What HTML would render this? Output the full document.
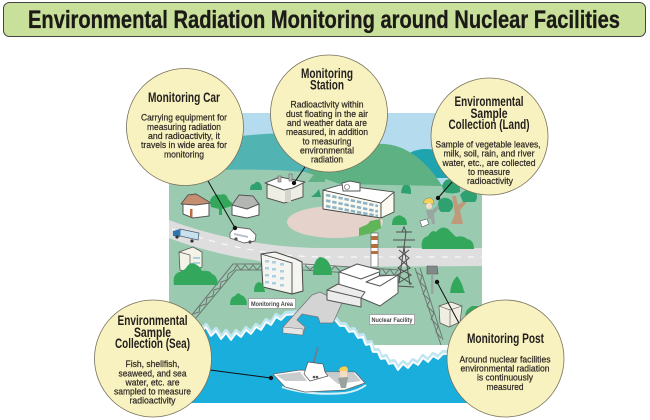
<!DOCTYPE html>
<html><head><meta charset="utf-8"><style>
html,body{margin:0;padding:0;background:#fff}
svg{display:block}
text{font-family:"Liberation Sans Narrow","Liberation Sans",sans-serif;fill:#231f1c;text-anchor:middle}
.h{font-size:13.5px;font-weight:bold}
.b{font-size:9.6px;fill:#2e2825;stroke:#2e2825;stroke-width:.22}
.l{font-size:6.2px;font-weight:bold;fill:#444}
.w{fill:#fff;stroke:#555;stroke-width:1;stroke-linejoin:round}
.g{fill:#33a85d}
.f{fill:#2fa170}
.circ{fill:#f8f2c0;stroke:#77725c;stroke-width:.8}
.con{stroke:#111;stroke-width:1;fill:none}
</style></head><body>
<svg width="650" height="420" viewBox="0 0 650 420" xmlns="http://www.w3.org/2000/svg">
<rect x="3.500" y="2.500" width="642" height="34" rx="6" fill="#c8e09a" stroke="#444" stroke-width="1"/>
<text x="324" y="28" font-size="25" font-weight="bold" textLength="592" lengthAdjust="spacingAndGlyphs" style="fill:#1c1a17;stroke:#1c1a17;stroke-width:.3">Environmental Radiation Monitoring around Nuclear Facilities</text>

<!-- scene background -->
<rect x="169" y="113" width="313" height="80" fill="#b5dcee"/>
<path d="M169 170 L169 160 C195 138 250 133 300 133 L320 175 L169 175Z" fill="#52b3b3"/>
<path d="M400 160 C412 148 428 145 450 155 L482 178 L400 178Z" fill="#1fa3ae"/>
<path d="M300 178 C330 152 362 143 385 144 C410 146 430 165 446 192 L300 192Z" fill="#5eb183"/>
<path d="M169 171 C220 170 260 168 305 172 L340 184 L440 186 L482 190 L482 345 L169 345Z" fill="#9acbb0"/>
<path d="M308 182 L316 172 L325 172 L325 182Z" fill="#5eb183"/>
<ellipse cx="335" cy="222" rx="48" ry="16" fill="#e4d2cb"/>

<!-- road -->
<path d="M169 220 C200 232 260 248 320 248 L482 248 L482 266 L330 267 C260 266 200 250 169 238Z" fill="#dedede"/>
<path d="M172 229 C205 240 260 256 320 257 L482 257" fill="none" stroke="#fff" stroke-width="1" stroke-dasharray="6 7"/>

<!-- background bushes -->
<path d="M250 190 Q250 184 254 184 Q257 180 260 183 Q262 185 262 190Z" class="f"/>
<path d="M311 197 L316 193 L319 189 L321 197Z" class="f"/>
<path d="M401 193 Q402 184 406 185 Q410 184 411 190 L411 194 L401 193Z" class="f"/>

<!-- truss fence -->
<g fill="none" stroke="#6e7772" stroke-width="1">
<path d="M191 316 L233 264 L262 264M195 319 L236 270 L262 270"/>
<path d="M193 314 L199 312 L200 306 L206 304 L207 298 L213 296 L214 290 L220 288 L221 282 L227 280 L228 274 L234 270 L237 265 L241 270 L245 265 L249 270 L253 265 L257 270 L261 265"/>
<path d="M303 264 L400 270 M303 270 L398 276"/>
<path d="M305 265 L310 270 L315 265 L320 270 L325 266 L330 271 L335 266 L340 271"/>
<path d="M382 268 L386 274 L390 269 L394 275 L398 270"/>
<path d="M415 268 L441 345 M420 268 L443 340"/>
<path d="M416 272 L422 276 L420 282 L426 288 L423 294 L430 300 L427 306 L434 313 L431 319 L438 326 L436 332 L441 338"/>
</g>

<!-- coast & sea -->
<path d="M191 318 L196 322 L201 330 L206 325 L211 334 L216 329 L221 337 L226 331 L231 338 L236 331 L241 335 L246 328 L251 332 L256 325 L261 328 L266 320 L271 323 L276 315 L281 318 L286 313 L300 312 L330 316 L336 319 L340 324 L345 324 L349 330 L354 329 L358 336 L363 335 L366 343 L371 342 L373 350 L378 350 L381 357 L386 356 L389 362 L394 361 L398 368 L403 362 L408 366 L413 360 L418 363 L423 356 L428 360 L433 354 L438 357 L443 352 L452 352 L470 403 L191 403Z" fill="#1aaedc"/>
<path d="M191 318 L196 322 L201 330 L206 325 L211 334 L216 329 L221 337 L226 331 L231 338 L236 331 L241 335 L246 328 L251 332 L256 325 L261 328 L266 320 L271 323 L276 315 L281 318 L286 313 L300 312 L330 316 L336 319 L340 324 L345 324 L349 330 L354 329 L358 336 L363 335 L366 343 L371 342 L373 350 L378 350 L381 357 L386 356 L389 362 L394 361 L398 368 L403 362 L408 366 L413 360 L418 363 L423 356 L428 360 L433 354 L438 357 L443 352 L452 352" fill="none" stroke="#c0e6f2" stroke-width="4" stroke-linejoin="round"/>
<path d="M191 320 L196 324 L201 332 L206 327 L211 336 L216 331 L221 339 L226 333 L231 340 L236 333 L241 337 L246 330 L251 334 L256 327 L261 330 L266 322 L271 325 L276 317 L281 320 L286 315 L300 314 M330 318 L336 321 L340 326 L345 326 L349 332 L354 331 L358 338 L363 337 L366 345 L371 344 L373 352 L378 352 L381 359 L386 358 L389 364 L394 363 L398 370 L403 364 L408 368 L413 362 L418 365 L423 358 L428 362 L433 356 L438 359 L443 354 L452 354" fill="none" stroke="#fff" stroke-width="1.8" stroke-linejoin="round"/>

<!-- pier -->
<path d="M312 295 L320 292 L342 303 L333 323 L320 323 L318 317 L302 314 L297 320 L305 327 L303 335 L283 333 L283 327Z" fill="#d4d4d4" stroke="#777" stroke-width=".8" stroke-linejoin="round"/>
<path d="M283 327 L303 329 L303 335 L283 333Z" fill="#e6e6e6" stroke="#777" stroke-width=".6"/>

<!-- houses -->
<g class="w">
<path d="M183 204 L196 195 L209 204 L209 216 L193 218 L183 214Z"/>
<path d="M188 195 L196 194 L211 203 L196 205 L181 204Z" style="fill:#c58e70"/>
<path d="M232 206 L244 196 L259 204 L259 215 L247 218 L232 215Z"/>
<path d="M232 205 L239 195 L253 196 L259 204 L247 209Z" style="fill:#b4b6b4"/>
</g>
<rect x="190" y="209" width="2.500" height="8" fill="#c06a3d"/>
<path d="M211 207 L210 200 Q214 193 220 195 Q226 192 228 199 L232 203 L232 206 L222 209 L222 215 L219 215 L219 209Z" class="g"/>

<!-- monitoring station bldg -->
<path d="M267 185 L267 198 L284 203 L303 197 L303 183 L284 179Z" fill="#efeee4" stroke="#555" stroke-width="1" stroke-linejoin="round"/>
<path d="M265 183 L280 177 L305 182 L293 188 L284 190Z" class="w"/>
<rect x="278" y="176" width="3" height="6" fill="#bbb" stroke="#555" stroke-width=".5"/>
<rect x="289" y="174" width="3" height="7" fill="#bbb" stroke="#555" stroke-width=".5"/>
<rect x="285" y="190" width="6" height="12" fill="#d5d5cb"/>

<!-- school -->
<path d="M323 190 L381 203 L381 218 L323 209Z" fill="#fbfaf0" stroke="#444" stroke-width=".9" stroke-linejoin="round"/>
<path d="M381 203 L394 192 L394 212 L381 218Z" fill="#fbfaf0" stroke="#444" stroke-width=".9" stroke-linejoin="round"/>
<path d="M323 190 L340 185 L394 192 L381 203Z" fill="#fff" stroke="#444" stroke-width=".8" stroke-linejoin="round"/>
<path d="M342 183 L350 181 L360 183 L360 191 L343 191Z" class="w"/>
<circle cx="347" cy="187" r="2.500" fill="#fff" stroke="#555" stroke-width=".6"/>
<path d="M326 195 L378 206 M326 200.500 L378 211.500 M326 206 L378 216" stroke="#8fb3c6" stroke-width="2.600" stroke-dasharray="4.500 1.800" fill="none"/>

<!-- truck -->
<path d="M180 229 L199 233 L198 240 L180 236Z" fill="#c7e2ee" stroke="#456" stroke-width=".7"/>
<path d="M173 231 L180 229 L180 237 L173 236Z" fill="#2a77b4"/>
<circle cx="177" cy="237" r="1.600" fill="#333"/><circle cx="192" cy="241" r="1.600" fill="#333"/>

<!-- car -->
<path d="M230 233 L235 227 L250 229 L256 235 L255 241 L244 243 L230 238Z" fill="#fff" stroke="#666" stroke-width=".9" stroke-linejoin="round"/>
<path d="M234 233 L248 236 L248 238 L234 235Z" fill="#b8c2c8"/>
<circle cx="236" cy="239" r="1.600" fill="#555"/><circle cx="250" cy="242" r="1.600" fill="#555"/>

<!-- lower left building -->
<path d="M179 252 L193 247 L202 252 L202 267 L190 272 L180 270Z" fill="#f4f3e8" stroke="#555" stroke-width=".8" stroke-linejoin="round"/>
<path d="M179 252 L190 255 L190 272" fill="none" stroke="#555" stroke-width=".7"/>
<rect x="193" y="257" width="7" height="2" fill="#a9cfe0"/><rect x="193" y="262" width="7" height="2" fill="#a9cfe0"/>
<path d="M174 285 Q172 275 179 272 Q183 271 186 268 Q190 261 195 264 Q200 266 202 271 Q210 270 212 274 Q217 275 218 285Z" class="g"/>

<!-- mid building -->
<path d="M261 254 L275 252 L296 259 L302 262 L303 291 L292 294 L263 287Z" fill="#f4f5f0" stroke="#444" stroke-width="1" stroke-linejoin="round"/>
<path d="M261 254 L292 263 L292 294" fill="none" stroke="#444" stroke-width=".9"/>
<g fill="#a9cfe0"><rect x="265" y="260" width="4" height="2.500"/><rect x="272" y="261" width="4" height="2.500"/><rect x="280" y="263" width="4" height="2.500"/>
<rect x="265" y="267" width="4" height="2.500"/><rect x="272" y="268" width="4" height="2.500"/><rect x="280" y="270" width="4" height="2.500"/>
<rect x="265" y="274" width="4" height="2.500"/><rect x="272" y="275" width="4" height="2.500"/><rect x="280" y="277" width="4" height="2.500"/>
<rect x="265" y="281" width="4" height="2.500"/><rect x="272" y="282" width="4" height="2.500"/><rect x="280" y="284" width="4" height="2.500"/></g>

<!-- bushes -->
<path d="M254 292 Q254 283 259 282 Q264 283 265 292Z" class="g"/>
<path d="M230 305 Q230 297 235 296 Q238 291 241 295 Q247 297 247 305Z" class="g"/>
<path d="M313 275 Q313 260 320 257 Q331 258 332 275Z" class="g"/>
<path d="M359 236 L359 228 L368 224 L370 221 L380 219 L381 228 L372 233Z" fill="#5fb558"/>
<path d="M392 225 Q392 217 397 216 Q400 214 403 217 Q407 218 407 225Z" class="g"/>
<path d="M422 249 Q420 238 428 236 Q432 229 436 232 Q442 225 448 229 Q452 233 456 237 Q463 235 467 239 Q474 240 474 249Z" class="g"/>
<path d="M450 293 Q451 282 457 276 Q462 282 464 291 L465 293Z" class="g"/>
<path d="M465 315 Q466 309 472 306 L478 306 L478 315Z" class="g"/>

<!-- tree and person -->
<path d="M452 196 L456 196 L458 205 L466 199 L467 202 L460 210 L463 224 L451 224 L455 214Z" fill="#bf9a7a"/>
<path d="M442 186 Q445 177 452 180 Q461 183 460 192 Q452 195 444 192Z" class="f"/>
<path d="M460 195 Q466 187 475 191 Q479 197 475 202 L463 202Z" class="f"/>
<path d="M439 200 Q446 195 452 201 Q455 208 449 212 L441 212 Q436 207 439 200Z" class="f"/>
<path d="M423 203 Q425 197 431 198 Q434 200 434 204 L428 204Z" fill="#f4d25a" stroke="#666" stroke-width=".4"/>
<circle cx="429" cy="206" r="3" fill="#f5dcc5"/>
<path d="M426 210 L432 210 L438 205 L439 208 L434 214 L435 224 L432 224 L431 219 L428 219Z" fill="#9aa7a1"/>
<path d="M420 221 L427 219 L429 224 L422 227Z" fill="#fff" stroke="#555" stroke-width=".6"/>

<!-- stack -->
<rect x="371" y="233" width="7" height="34" fill="#fff" stroke="#555" stroke-width=".6"/>
<rect x="371" y="236" width="7" height="4" fill="#b96d38"/><rect x="371" y="244" width="7" height="4" fill="#b96d38"/><rect x="371" y="251" width="7" height="3" fill="#b96d38"/>

<!-- pylon -->
<g fill="none" stroke="#4e4e4e" stroke-width="1">
<path d="M393 240 L415 240 M396 232 L412 232 M397 247 L411 247"/>
<path d="M402 232 L404 227 L406 232 L404 247 L399 282 M406 232 M404 247 L410 285 M399 250 L409 258 L398 268 L411 275 L397 284 M409 250 L399 258 L410 268 L397 275 L412 284"/>
<path d="M397 286 L414 287"/>
</g>

<!-- reactor -->
<g class="w">
<path d="M339 272 L357 264 L380 270 L379 277 L398 275 L398 293 L380 306 L361 298 L339 288Z"/>
<path d="M339 272 L361 279 L379 272" fill="none"/>
<path d="M366 282 L379 276 L398 275 L380 286Z"/>
<path d="M327 290 L338 284 L365 292 L361 298 L361 307 L327 300Z" style="fill:#ececec"/>
<path d="M327 290 L361 298" fill="none"/>
</g>

<!-- monitoring post -->
<path d="M427 266 L437 266 L438 274 L427 274Z" fill="#808987" stroke="#555" stroke-width=".6"/>
<rect x="431" y="274" width="2.500" height="20" fill="#9aa5a2"/>

<!-- small box -->
<path d="M439 306 L451 302 L462 306 L460 322 L449 327 L440 323Z" fill="#efeee0" stroke="#555" stroke-width=".7" stroke-linejoin="round"/>
<path d="M439 306 L450 310 L450 327 M450 310 L462 306" fill="none" stroke="#555" stroke-width=".6"/>

<!-- labels -->
<rect x="248.500" y="298.500" width="47" height="10" fill="#fff" stroke="#999" stroke-width=".8"/>
<text x="272" y="306" class="l" textLength="42" lengthAdjust="spacingAndGlyphs">Monitoring Area</text>
<rect x="369.500" y="314.500" width="45" height="10" fill="#fff" stroke="#999" stroke-width=".8"/>
<text x="392" y="322" class="l" textLength="41" lengthAdjust="spacingAndGlyphs">Nuclear Facility</text>

<!-- boat -->
<path d="M282 387 Q310 396 345 393 Q358 391 366 385" stroke="#d8f0f8" stroke-width="2" fill="none"/>
<path d="M313 364 L318 347" stroke="#778" stroke-width="1.600" fill="none"/>
<path d="M273 374 L300 370 L325 372 L355 372 L365 383 L345 390 L305 392 L285 387Z" fill="#fff" stroke="#666" stroke-width=".8" stroke-linejoin="round"/>
<path d="M276 375 L300 372 L307 381 L285 381Z M325 373 L354 373 L361 381 L338 384Z" fill="#c8cccc"/>
<path d="M304 374 L308 362 L323 364 L325 372 L328 376 L310 381Z" fill="#fff" stroke="#555" stroke-width=".7" stroke-linejoin="round"/>
<circle cx="314" cy="377" r="1.300" fill="#555"/><circle cx="317" cy="377" r="1.300" fill="#555"/>
<path d="M338 371 Q340 366 345 366 Q349 367 348 372Z" fill="#f4d25a" stroke="#666" stroke-width=".4"/>
<rect x="340" y="371" width="7" height="6" fill="#f5dcc5"/>
<path d="M338 378 L348 377 L346 388 L341 388Z" fill="#98a29e"/>

<!-- connectors -->
<path class="con" d="M208 181 L235 228"/><circle cx="235" cy="228" r="2.200" fill="#111"/>
<path class="con" d="M305 167 L294 183"/><circle cx="294" cy="183" r="2.200" fill="#111"/>
<path class="con" d="M452 182 L438 198"/><circle cx="438" cy="198" r="2.200" fill="#111"/>
<path class="con" d="M210 370 L271 378"/><circle cx="271" cy="378" r="2.200" fill="#111"/>
<path class="con" d="M460 325 L437 282"/><circle cx="437" cy="282" r="2.200" fill="#111"/>

<!-- callout circles -->
<circle class="circ" cx="185" cy="127" r="58.500"/>
<circle class="circ" cx="329" cy="113.500" r="58.500"/>
<circle class="circ" cx="489.500" cy="136.500" r="58.500"/>
<circle class="circ" cx="153" cy="358.500" r="58.500"/>
<circle class="circ" cx="505.500" cy="358.500" r="58.500"/>

<!-- Monitoring car text -->
<text class="h" x="184" y="102" textLength="72" lengthAdjust="spacingAndGlyphs">Monitoring Car</text>
<text class="b" x="184" y="120.500" textLength="86" lengthAdjust="spacingAndGlyphs">Carrying equipment for</text>
<text class="b" x="184" y="130" textLength="74" lengthAdjust="spacingAndGlyphs">measuring radiation</text>
<text class="b" x="184" y="139" textLength="72" lengthAdjust="spacingAndGlyphs">and radioactivity, it</text>
<text class="b" x="184" y="148" textLength="86" lengthAdjust="spacingAndGlyphs">travels in wide area for</text>
<text class="b" x="184" y="157.500" textLength="40" lengthAdjust="spacingAndGlyphs">monitoring</text>

<!-- Station text -->
<text class="h" x="327" y="78" textLength="52" lengthAdjust="spacingAndGlyphs">Monitoring</text>
<text class="h" x="327" y="89.500" textLength="34" lengthAdjust="spacingAndGlyphs">Station</text>
<text class="b" x="327" y="107.500" textLength="73" lengthAdjust="spacingAndGlyphs">Radioactivity within</text>
<text class="b" x="327" y="117" textLength="82" lengthAdjust="spacingAndGlyphs">dust floating in the air</text>
<text class="b" x="327" y="126" textLength="80" lengthAdjust="spacingAndGlyphs">and weather data are</text>
<text class="b" x="327" y="135" textLength="82" lengthAdjust="spacingAndGlyphs">measured, in addition</text>
<text class="b" x="327" y="144.500" textLength="49" lengthAdjust="spacingAndGlyphs">to measuring</text>
<text class="b" x="327" y="153.500" textLength="54" lengthAdjust="spacingAndGlyphs">environmental</text>
<text class="b" x="327" y="162.500" textLength="32" lengthAdjust="spacingAndGlyphs">radiation</text>

<!-- Land -->
<text class="h" x="489" y="106" textLength="69" lengthAdjust="spacingAndGlyphs">Environmental</text>
<text class="h" x="489" y="118" textLength="37" lengthAdjust="spacingAndGlyphs">Sample</text>
<text class="h" x="489" y="129" textLength="81" lengthAdjust="spacingAndGlyphs">Collection (Land)</text>
<text class="b" x="488" y="147.500" textLength="105" lengthAdjust="spacingAndGlyphs">Sample of vegetable leaves,</text>
<text class="b" x="489" y="156.500" textLength="91" lengthAdjust="spacingAndGlyphs">milk, soil, rain, and river</text>
<text class="b" x="489" y="166" textLength="93" lengthAdjust="spacingAndGlyphs">water, etc., are collected</text>
<text class="b" x="489" y="175" textLength="42" lengthAdjust="spacingAndGlyphs">to measure</text>
<text class="b" x="490" y="184" textLength="46" lengthAdjust="spacingAndGlyphs">radioactivity</text>

<!-- Sea -->
<text class="h" x="152.500" y="325" textLength="70" lengthAdjust="spacingAndGlyphs">Environmental</text>
<text class="h" x="152.500" y="337" textLength="37" lengthAdjust="spacingAndGlyphs">Sample</text>
<text class="h" x="152.500" y="348" textLength="75" lengthAdjust="spacingAndGlyphs">Collection (Sea)</text>
<text class="b" x="152.500" y="367" textLength="54" lengthAdjust="spacingAndGlyphs">Fish, shellfish,</text>
<text class="b" x="152.500" y="376.500" textLength="68" lengthAdjust="spacingAndGlyphs">seaweed, and sea</text>
<text class="b" x="152.500" y="385.500" textLength="54" lengthAdjust="spacingAndGlyphs">water, etc. are</text>
<text class="b" x="152.500" y="394.500" textLength="77" lengthAdjust="spacingAndGlyphs">sampled to measure</text>
<text class="b" x="152.500" y="403.500" textLength="46" lengthAdjust="spacingAndGlyphs">radioactivity</text>

<!-- Post -->
<text class="h" x="505.500" y="343" textLength="77" lengthAdjust="spacingAndGlyphs">Monitoring Post</text>
<text class="b" x="505" y="362.500" textLength="91" lengthAdjust="spacingAndGlyphs">Around nuclear facilities</text>
<text class="b" x="505" y="371.500" textLength="89" lengthAdjust="spacingAndGlyphs">environmental radiation</text>
<text class="b" x="505" y="380.500" textLength="56" lengthAdjust="spacingAndGlyphs">is continuously</text>
<text class="b" x="505" y="390" textLength="37" lengthAdjust="spacingAndGlyphs">measured</text>
</svg>
</body></html>
